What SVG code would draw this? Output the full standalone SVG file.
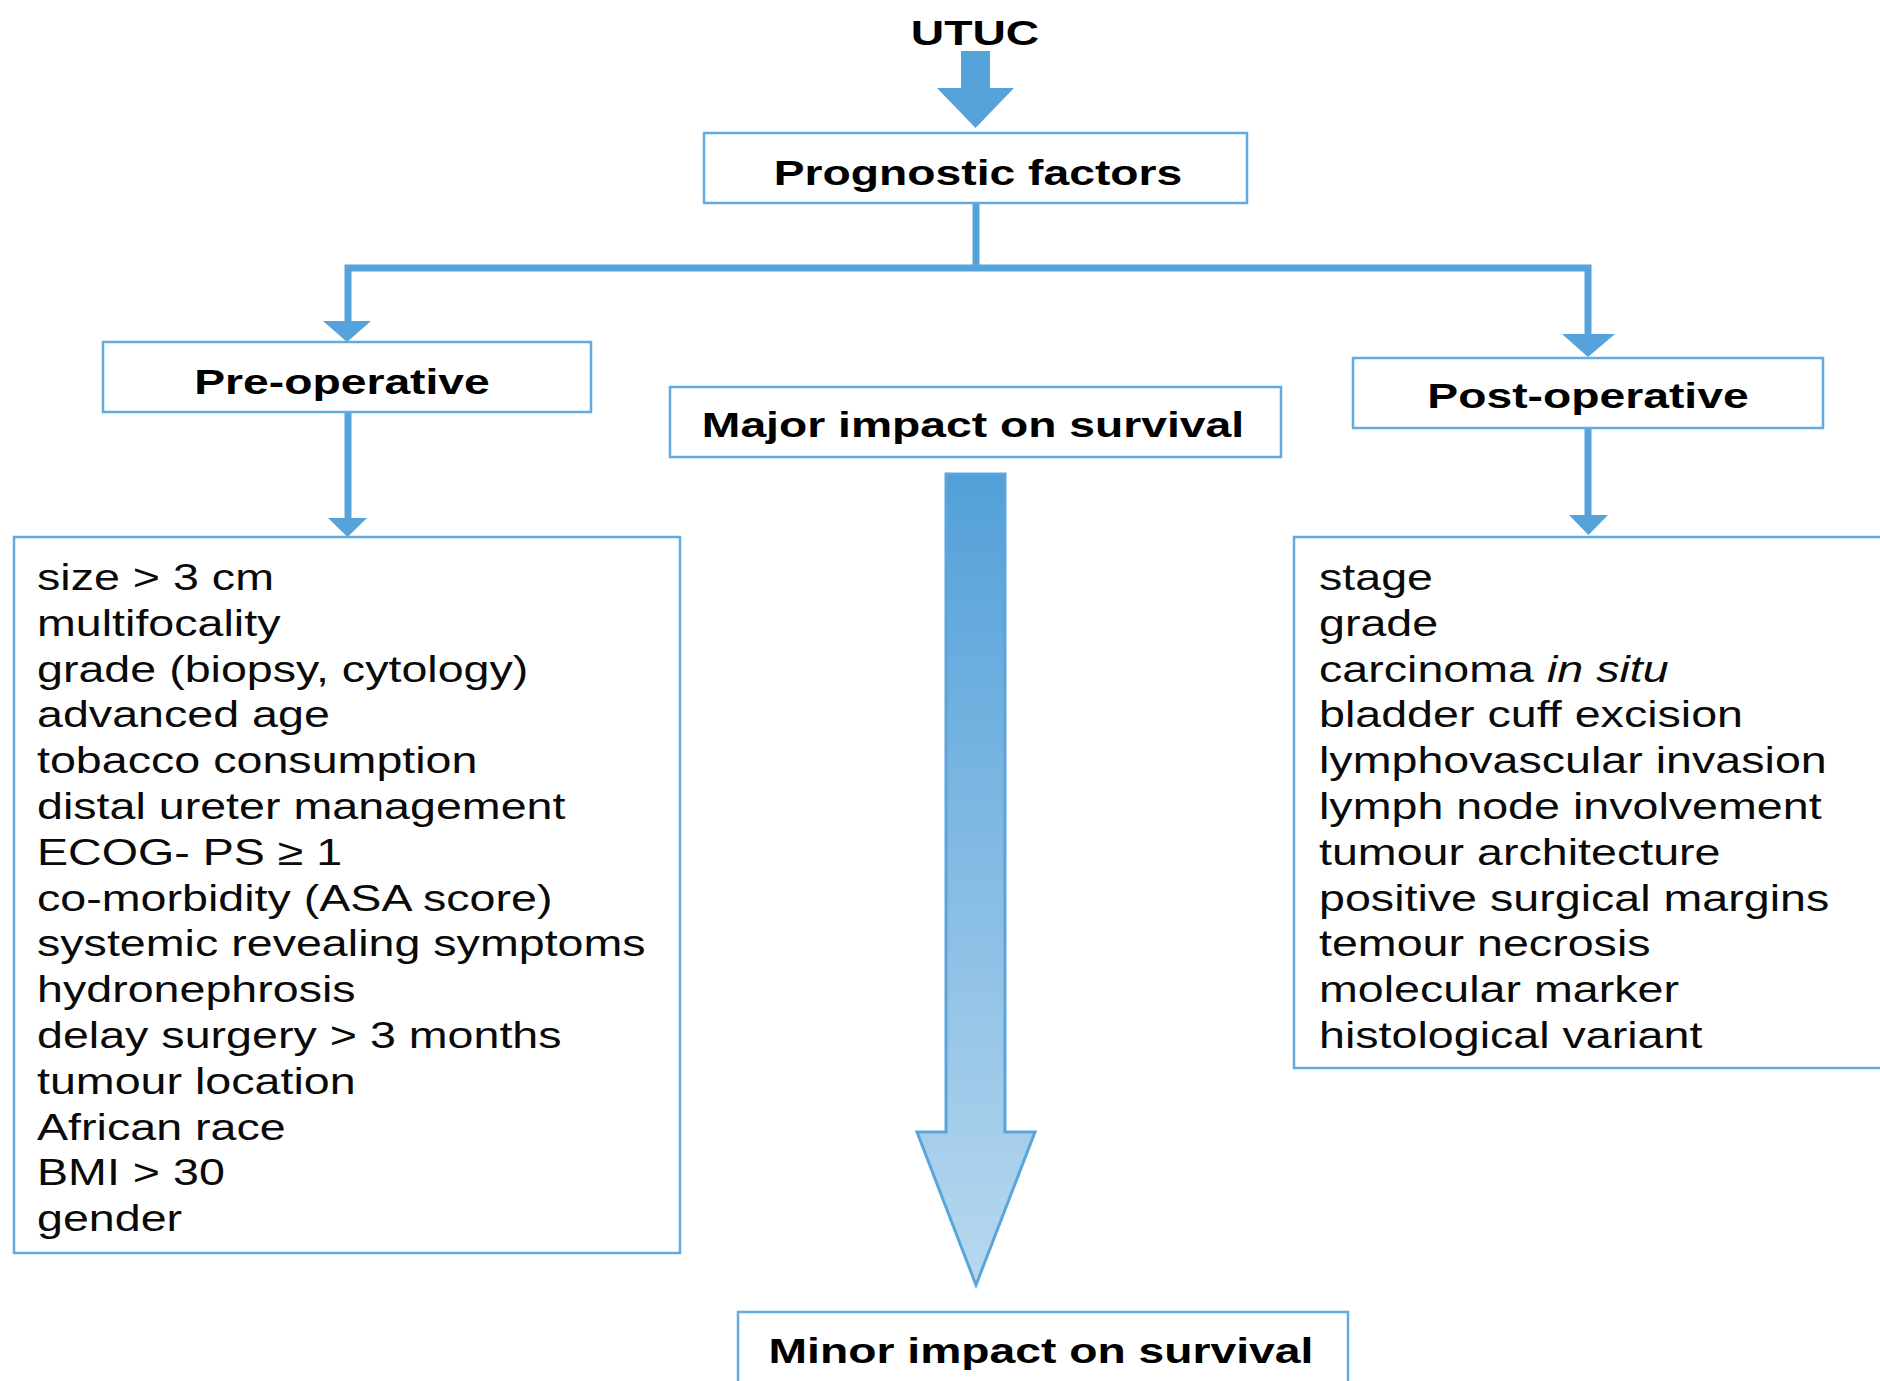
<svg xmlns="http://www.w3.org/2000/svg" width="1880" height="1381" viewBox="0 0 1880 1381">
<style>
.box{fill:#fff;stroke:#62aadf;stroke-width:2.5}
.lbl{font-family:"Liberation Sans",Arial,sans-serif;font-weight:bold;font-size:36px;fill:#000;text-anchor:middle}
.lst{font-family:"Liberation Sans",Arial,sans-serif;font-size:37.5px;fill:#0a0a0a}
.ln{fill:none;stroke:#55a3da;stroke-width:7}
.hd{fill:#55a3da}
</style>
<defs>
<linearGradient id="g" x1="0" y1="474" x2="0" y2="1285" gradientUnits="userSpaceOnUse">
<stop offset="0" stop-color="#52a0d9"/>
<stop offset="1" stop-color="#b8d8ef"/>
</linearGradient>
</defs>
<rect width="1880" height="1381" fill="#fff"/>

<g id="connectors">
<polygon class="hd" points="961,51 990,51 990,88 1014,88 975.5,128 937,88 961,88"/>
<line class="ln" x1="976" y1="203" x2="976" y2="268"/>
<polyline class="ln" points="348,322 348,268 1588,268 1588,335"/>
<polygon class="hd" points="323,321 371,321 347,342"/>
<polygon class="hd" points="1562,334 1615,334 1588,357"/>
<line class="ln" x1="348" y1="412" x2="348" y2="520"/>
<polygon class="hd" points="328,518 367,518 347.5,537"/>
<line class="ln" x1="1588" y1="428" x2="1588" y2="516"/>
<polygon class="hd" points="1569,515 1608,515 1588.5,535"/>
<polygon points="946,474 1005,474 1005,1132 1035,1132 976,1285 917,1132 946,1132" fill="url(#g)" stroke="#5aa5dc" stroke-width="3" stroke-linejoin="miter"/>
</g>

<g id="utuc">
<text class="lbl" transform="translate(975,45) scale(1.285,1)">UTUC</text>
</g>

<g id="prognostic">
<rect class="box" x="704" y="133" width="543" height="70"/>
<text class="lbl" transform="translate(978,185) scale(1.285,1)">Prognostic factors</text>
</g>

<g id="preop">
<rect class="box" x="103" y="342" width="488" height="70"/>
<text class="lbl" transform="translate(342,394) scale(1.285,1)">Pre-operative</text>
</g>

<g id="major">
<rect class="box" x="670" y="387" width="611" height="70"/>
<text class="lbl" transform="translate(973,437) scale(1.285,1)">Major impact on survival</text>
</g>

<g id="postop">
<rect class="box" x="1353" y="358" width="470" height="70"/>
<text class="lbl" transform="translate(1588,408) scale(1.285,1)">Post-operative</text>
</g>

<g id="prelist">
<rect class="box" x="14" y="537" width="666" height="716"/>
<g class="lst" transform="translate(37,590) scale(1.243,1)">
<text y="0">size &gt; 3 cm</text>
<text y="45.8">multifocality</text>
<text y="91.6">grade (biopsy, cytology)</text>
<text y="137.4">advanced age</text>
<text y="183.2">tobacco consumption</text>
<text y="229">distal ureter management</text>
<text y="274.8">ECOG- PS ≥ 1</text>
<text y="320.6">co-morbidity (ASA score)</text>
<text y="366.4">systemic revealing symptoms</text>
<text y="412.2">hydronephrosis</text>
<text y="458">delay surgery &gt; 3 months</text>
<text y="503.8">tumour location</text>
<text y="549.6">African race</text>
<text y="595.4">BMI &gt; 30</text>
<text y="641.2">gender</text>
</g>
</g>

<g id="postlist">
<rect class="box" x="1294" y="537" width="600" height="531"/>
<g class="lst" transform="translate(1319,590) scale(1.243,1)">
<text y="0">stage</text>
<text y="45.8">grade</text>
<text y="91.6">carcinoma <tspan font-style="italic">in situ</tspan></text>
<text y="137.4">bladder cuff excision</text>
<text y="183.2">lymphovascular invasion</text>
<text y="229">lymph node involvement</text>
<text y="274.8">tumour architecture</text>
<text y="320.6">positive surgical margins</text>
<text y="366.4">temour necrosis</text>
<text y="412.2">molecular marker</text>
<text y="458">histological variant</text>
</g>
</g>

<g id="minor">
<rect class="box" x="738" y="1312" width="610" height="80"/>
<text class="lbl" transform="translate(1041,1363) scale(1.285,1)">Minor impact on survival</text>
</g>
</svg>
